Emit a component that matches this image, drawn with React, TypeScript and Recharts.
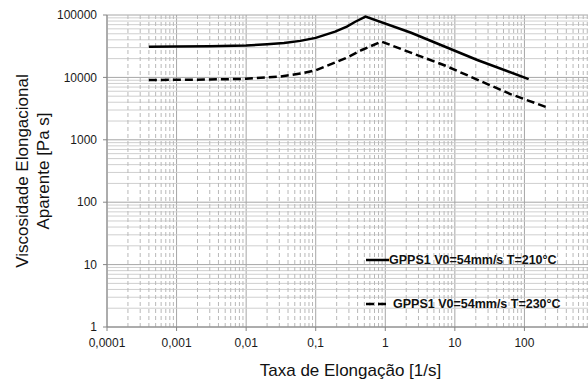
import React from "react";
import {
  LineChart,
  Line,
  XAxis,
  YAxis,
  CartesianGrid,
  ReferenceLine,
  Legend,
  Label,
} from "recharts";

const FONT = "'Liberation Sans', Arial, Helvetica, sans-serif";

// strain rate [1/s] and apparent elongational viscosity [Pa s]
const rate210 = [0.0004, 0.001, 0.003, 0.01, 0.02, 0.035, 0.06, 0.1, 0.19, 0.28, 0.37, 0.52, 2.35, 21, 115];
const visc210 = [31000, 31200, 31500, 32500, 34000, 35600, 38500, 43000, 54000, 65000, 78000, 94000, 52000, 19000, 9400];

const rate230 = [0.0004, 0.001, 0.003, 0.01, 0.03, 0.06, 0.1, 0.27, 0.46, 0.88, 7.2, 63, 220];
const visc230 = [9100, 9150, 9250, 9500, 10300, 11500, 13000, 20300, 27500, 37500, 15500, 5400, 3250];

const xTicks = [0.0001, 0.001, 0.01, 0.1, 1, 10, 100];
const yTicks = [1, 10, 100, 1000, 10000, 100000];

const seriesNames = ["GPPS1 V0=54mm/s T=210°C", "GPPS1 V0=54mm/s T=230°C"];

const data210 = rate210.map((rate, i) => ({ rate, visc: visc210[i] }));
const data230 = rate230.map((rate, i) => ({ rate, visc: visc230[i] }));

// minor log grid: 2..9 inside each decade
const minorOf = (decades: number[]) =>
  decades.flatMap((d) => [2, 3, 4, 5, 6, 7, 8, 9].map((m) => Number((d * m).toPrecision(3))));
const minorX = minorOf([0.0001, 0.001, 0.01, 0.1, 1, 10, 100]);
const minorY = minorOf([1, 10, 100, 1000, 10000]);

const fmtComma = (v: number) => String(v).replace(".", ",");

function LegendBox(props: any) {
  const { payload = [] } = props;
  return (
    <div style={{ fontFamily: FONT, fontSize: 12.5, fontWeight: 700, color: "#111" }}>
      {payload.map((entry: any, i: number) => (
        <div
          key={`leg-${i}`}
          style={{ display: "flex", alignItems: "center", height: 20, marginBottom: i === 0 ? 24 : 0 }}
        >
          <svg width={23} height={6} style={{ marginRight: i === 0 ? 0 : 1 }}>
            <line
              x1={0}
              y1={3}
              x2={i === 0 ? 23 : 21}
              y2={3}
              stroke="#000"
              strokeWidth={2.5}
              strokeDasharray={i === 0 ? undefined : "8 4"}
            />
          </svg>
          <span style={{ marginLeft: i === 0 ? 0 : 3 }}>{entry.value}</span>
        </div>
      ))}
    </div>
  );
}

function YTitle(props: any) {
  const { viewBox } = props;
  const cy = viewBox.y + viewBox.height / 2;
  return (
    <g fontFamily={FONT} fontSize={17} fill="#111" textAnchor="middle">
      <text x={22} y={cy} transform={`rotate(-90 22 ${cy})`} dominantBaseline="central">
        Viscosidade Elongacional
      </text>
      <text x={43} y={cy} transform={`rotate(-90 43 ${cy})`} dominantBaseline="central">
        Aparente [Pa s]
      </text>
    </g>
  );
}

export default function App() {
  return (
    <div
      style={{
        position: "absolute",
        left: 0,
        top: 0,
        width: 588,
        height: 380,
        overflow: "hidden",
        background: "#fff",
      }}
    >
      <LineChart width={600} height={380} margin={{ top: 15, right: 6, bottom: 0, left: 0 }}>
        <CartesianGrid stroke="#a6a6a6" />
        {minorY.map((v) => (
          <ReferenceLine key={`my-${v}`} y={v} stroke="#cfcfcf" />
        ))}
        {minorX.map((v) => (
          <ReferenceLine key={`mx-${v}`} x={v} stroke="#b8b8b8" strokeDasharray="4 3" />
        ))}
        <XAxis
          dataKey="rate"
          type="number"
          scale="log"
          domain={[0.0001, 1000]}
          ticks={xTicks}
          allowDataOverflow
          height={53}
          tickSize={4}
          tickMargin={7}
          tickFormatter={fmtComma}
          stroke="#868686"
          tick={{ fill: "#1a1a1a", fontSize: 12, fontFamily: FONT }}
        >
          <Label
            value="Taxa de Elongação [1/s]"
            position="insideBottom"
            offset={4}
            style={{ fontSize: 17, fontFamily: FONT, fill: "#111" }}
          />
        </XAxis>
        <YAxis
          dataKey="visc"
          type="number"
          scale="log"
          domain={[1, 100000]}
          ticks={yTicks}
          allowDataOverflow
          width={107}
          tickSize={4}
          tickMargin={6}
          stroke="#868686"
          tick={{ fill: "#1a1a1a", fontSize: 12, fontFamily: FONT }}
        >
          <Label content={YTitle} />
        </YAxis>
        <Legend
          layout="vertical"
          align="center"
          verticalAlign="middle"
          content={LegendBox}
          wrapperStyle={{ position: "absolute", left: 366, top: 250, width: 220 }}
        />
        <Line
          data={data210}
          dataKey="visc"
          name={seriesNames[0]}
          type="linear"
          stroke="#000"
          strokeWidth={2.5}
          dot={false}
          isAnimationActive={false}
        />
        <Line
          data={data230}
          dataKey="visc"
          name={seriesNames[1]}
          type="linear"
          stroke="#000"
          strokeWidth={2.5}
          strokeDasharray="8 4"
          dot={false}
          isAnimationActive={false}
        />
      </LineChart>
    </div>
  );
}
